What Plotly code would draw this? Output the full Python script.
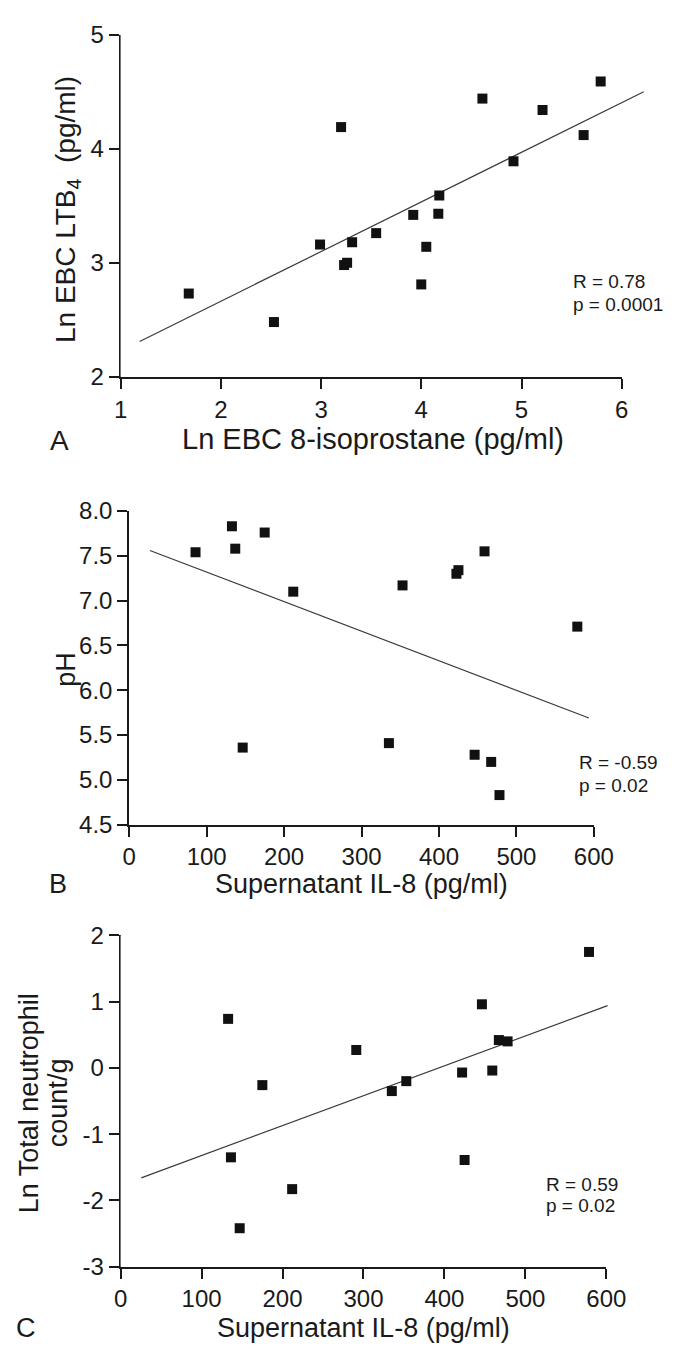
import plotly.graph_objects as go

W, H = 675, 1352
FONT = "Liberation Sans, Arial, Helvetica, sans-serif"
INK = "#1a1a1a"

# ---------------- Data ----------------
# Panel A
a_isoprostane = [1.68, 2.53, 2.99, 3.20, 3.23, 3.26, 3.31, 3.55, 3.92, 4.00,
                 4.05, 4.17, 4.18, 4.61, 4.92, 5.21, 5.62, 5.79]
a_ltb4 = [2.73, 2.48, 3.16, 4.19, 2.98, 3.00, 3.18, 3.26, 3.42, 2.81,
          3.14, 3.43, 3.59, 4.44, 3.89, 4.34, 4.12, 4.59]
a_fit_x = [1.19, 6.22]
a_fit_y = [2.31, 4.50]
a_xticks = [1, 2, 3, 4, 5, 6]
a_yticks = [2, 3, 4, 5]

# Panel B
b_il8 = [85.6, 132.6, 136.9, 146.5, 174.9, 211.8, 335.3, 352.9, 422.5, 425.1,
         446.0, 458.8, 467.4, 478.1, 578.6]
b_ph = [7.54, 7.83, 7.58, 5.36, 7.76, 7.10, 5.41, 7.17, 7.30, 7.34,
        5.28, 7.55, 5.20, 4.83, 6.71]
b_fit_x = [26.7, 593.6]
b_fit_y = [7.56, 5.69]
b_xticks = [0, 100, 200, 300, 400, 500, 600]
b_yticks = [4.5, 5.0, 5.5, 6.0, 6.5, 7.0, 7.5, 8.0]

# Panel C
c_il8 = [132.8, 136.3, 147.1, 175.1, 211.9, 291.1, 335.0, 352.9, 421.8, 424.9,
         446.3, 459.1, 467.2, 478.0, 578.6]
c_neut = [0.74, -1.35, -2.42, -0.26, -1.83, 0.27, -0.35, -0.20, -0.07, -1.39,
          0.96, -0.04, 0.42, 0.40, 1.75]
c_fit_x = [25.5, 601.5]
c_fit_y = [-1.66, 0.94]
c_xticks = [0, 100, 200, 300, 400, 500, 600]
c_yticks = [-3, -2, -1, 0, 1, 2]
c_yticktext = ["-3", "-2", "-1", "0", "1", "2"]

# ---------------- Layout helpers ----------------
def fx(p):
    return p / W


def fy(p):
    return 1 - p / H


panels = [
    dict(x=a_isoprostane, y=a_ltb4, fx_=a_fit_x, fy_=a_fit_y,
         xr=[1, 6], ext=6.3, yr=[2, 5], L=110, R=632, T=13, B=362,
         xt=a_xticks, xtt=[str(v) for v in a_xticks],
         yt=a_yticks, ytt=[str(v) for v in a_yticks]),
    dict(x=b_il8, y=b_ph, fx_=b_fit_x, fy_=b_fit_y,
         xr=[0, 600], ext=600, yr=[4.5, 8.0], L=119, R=603, T=499, B=819,
         xt=b_xticks, xtt=[str(v) for v in b_xticks],
         yt=b_yticks, ytt=["%.1f" % v for v in b_yticks]),
    dict(x=c_il8, y=c_neut, fx_=c_fit_x, fy_=c_fit_y,
         xr=[0, 600], ext=610, yr=[-3, 2], L=110, R=616, T=932, B=1270,
         xt=c_xticks, xtt=[str(v) for v in c_xticks],
         yt=c_yticks, ytt=c_yticktext),
]

fig = go.Figure()
layout = {}

for i, p in enumerate(panels):
    xm = 2 * i + 1      # main (visible) x axis
    xl = 2 * i + 2      # extended x axis carrying the marks
    yi = i + 1
    xm_name = "xaxis" if xm == 1 else f"xaxis{xm}"
    xl_name = f"xaxis{xl}"
    y_name = "yaxis" if yi == 1 else f"yaxis{yi}"
    xm_ref = "x" if xm == 1 else f"x{xm}"
    xl_ref = f"x{xl}"
    y_ref = "y" if yi == 1 else f"y{yi}"

    x0, x1 = p["xr"]
    Rext = p["L"] + (p["R"] - p["L"]) * (p["ext"] - x0) / (x1 - x0)

    axis_common = dict(showline=True, linewidth=2, linecolor=INK,
                       ticks="outside", ticklen=10, tickwidth=2, tickcolor=INK,
                       showgrid=False, zeroline=False,
                       tickfont=dict(family=FONT, size=24, color=INK),
                       fixedrange=True)

    layout[xm_name] = dict(axis_common, domain=[fx(p["L"]), fx(p["R"])],
                           range=p["xr"], anchor=y_ref,
                           tickmode="array", tickvals=p["xt"], ticktext=p["xtt"])
    layout[xl_name] = dict(domain=[fx(p["L"]), fx(Rext)],
                           range=[x0, p["ext"]], anchor=y_ref, visible=False,
                           fixedrange=True)
    layout[y_name] = dict(axis_common, domain=[fy(p["B"]), fy(p["T"])],
                          range=p["yr"], anchor=xm_ref,
                          tickmode="array", tickvals=p["yt"], ticktext=p["ytt"])

    # invisible trace so the main subplot (axes) is drawn
    fig.add_trace(go.Scatter(x=[p["xr"][0]], y=[p["yr"][0]], mode="markers",
                             marker=dict(size=1, opacity=0), hoverinfo="skip",
                             showlegend=False, xaxis=xm_ref, yaxis=y_ref))
    # regression line
    fig.add_trace(go.Scatter(x=p["fx_"], y=p["fy_"], mode="lines",
                             line=dict(color="#3a3a3a", width=1.2),
                             showlegend=False, hoverinfo="skip",
                             xaxis=xl_ref, yaxis=y_ref))
    # data points
    fig.add_trace(go.Scatter(x=p["x"], y=p["y"], mode="markers",
                             marker=dict(symbol="square", size=10, color="#111111",
                                         line=dict(width=0)),
                             cliponaxis=False, showlegend=False,
                             xaxis=xl_ref, yaxis=y_ref))


def ann(text, x, y, size, xanchor="center", yanchor="middle", angle=0):
    return dict(text=text, x=fx(x), y=fy(y), xref="paper", yref="paper",
                xanchor=xanchor, yanchor=yanchor, showarrow=False,
                textangle=angle, font=dict(family=FONT, size=size, color=INK))


annotations = [
    # Panel A
    ann("Ln EBC 8-isoprostane (pg/ml)", 373, 425, 29),
    ann("A", 46, 427, 28),
    ann("Ln EBC LTB<sub>4</sub>  (pg/ml)", 54, 191, 28, angle=-90),
    ann("R = 0.78", 579, 265, 19, xanchor="left"),
    ann("p = 0.0001", 579, 288, 19, xanchor="left"),
    # Panel B
    ann("Supernatant IL-8 (pg/ml)", 361, 880, 27),
    ann("B", 45, 880, 27),
    ann("pH", 53, 660, 27, angle=-90),
    ann("R = -0.59", 585, 756, 19, xanchor="left"),
    ann("p = 0.02", 585, 779, 19, xanchor="left"),
    # Panel C
    ann("Supernatant IL-8 (pg/ml)", 363, 1333, 27),
    ann("C", 11, 1333, 27),
    ann("Ln Total neutrophil", 15, 1103, 27, angle=-90),
    ann("count/g", 45, 1103, 27, angle=-90),
    ann("R = 0.59", 551, 1186, 19, xanchor="left"),
    ann("p = 0.02", 551, 1208, 19, xanchor="left"),
]

fig.update_layout(
    width=W, height=H,
    margin=dict(l=0, r=0, t=0, b=0),
    paper_bgcolor="white", plot_bgcolor="white",
    showlegend=False,
    font=dict(family=FONT, color=INK),
    annotations=annotations,
    **layout,
)

fig.write_html("out.html")
